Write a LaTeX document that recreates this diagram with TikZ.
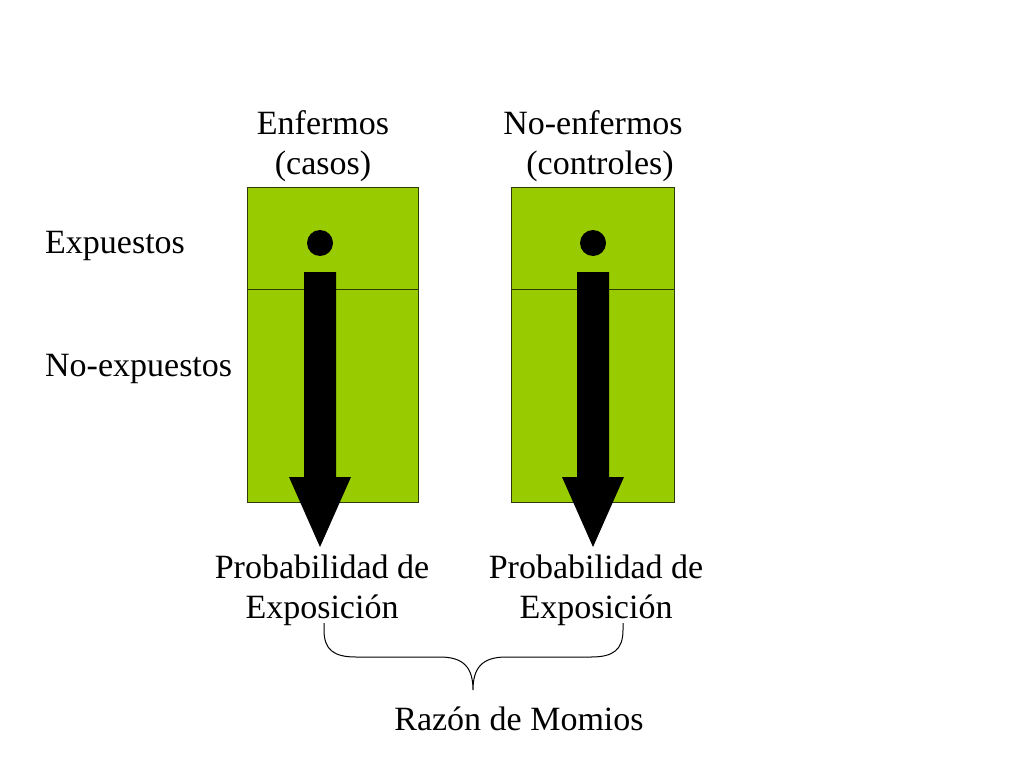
\documentclass[tikz,border=0pt]{standalone}
\usepackage{fontspec}
\setmainfont{Liberation Serif}
\definecolor{boxgreen}{HTML}{99CC00}
\definecolor{boxedge}{HTML}{2E3A0A}
\begin{document}
\begin{tikzpicture}[x=1pt,y=-1pt,
  lbl/.style={inner sep=0pt,font=\fontsize{34}{40}\selectfont,align=center},
  cellbox/.style={draw=boxedge,line width=1pt,fill=boxgreen,minimum width=171pt,minimum height=315pt,inner sep=0pt},
  blockarrow/.style={fill=black},
  brace/.style={draw=black,line width=1pt}]
\useasboundingbox (0,0) rectangle (1024,768);
% boxes
\node[cellbox,anchor=north west] (L) at (247,187) {};
\node[cellbox,anchor=north west,minimum width=163pt] (R) at (511,187) {};
\draw[line width=1pt,boxedge] (L.west |- 0,289) coordinate (ldivw) -- (L.east |- 0,289) coordinate (ldive);
\draw[line width=1pt,boxedge] (R.west |- 0,289) coordinate (rdivw) -- (R.east |- 0,289) coordinate (rdive);
% dots
\fill (320,243) circle (13);
\fill (593,243) circle (13);
% block arrows
\fill[blockarrow] (304,272) -- (336,272) -- (336,477) -- (351,477) -- (320,547) -- (289,477) -- (304,477) -- cycle;
\fill[blockarrow] (577,272) -- (609,272) -- (609,477) -- (624,477) -- (593,547) -- (562,477) -- (577,477) -- cycle;
% headings
\node[lbl,anchor=base] (enf) at (323,174) {Enfermos\\(casos)};
\node[lbl,anchor=base] (noenf) at (593,174) {No-enfermos\\\hspace*{14pt}(controles)};
\node[lbl,anchor=base west] (exp) at (45,253) {Expuestos};
\node[lbl,anchor=base west] (noexp) at (45,376) {No-expuestos};
\node[lbl,anchor=base] (p1) at (322,618) {Probabilidad de\\Exposición};
\node[lbl,anchor=base] (p2) at (596,618) {Probabilidad de\\Exposición};
\node[lbl,anchor=base] (rm) at (519,730) {Razón de Momios};
% brace
\draw[brace] (324,623) -- (324,630) .. controls (324,650) and (334,657) .. (356,657)
  -- (440,657) .. controls (464,657) and (473,668) .. (473,690)
  .. controls (473,668) and (482,657) .. (506,657)
  -- (591,657) .. controls (613,657) and (623,650) .. (623,630) -- (623,623);
\end{tikzpicture}
\end{document}
